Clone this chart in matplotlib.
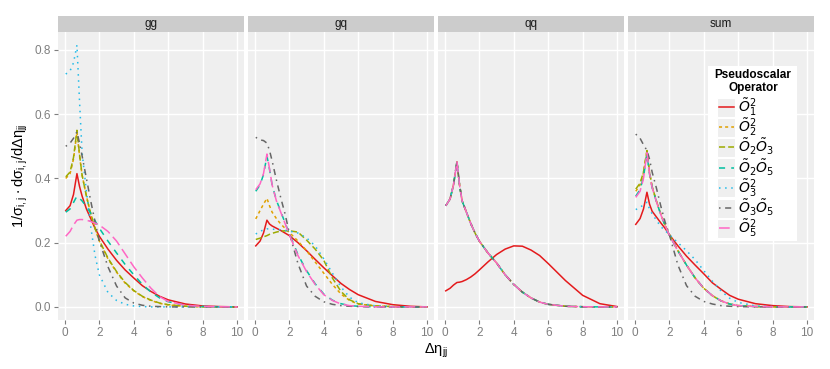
import matplotlib
matplotlib.use('Agg')
import matplotlib.pyplot as plt
from matplotlib.patches import Rectangle

plt.rcParams['font.family'] = ['Liberation Sans', 'DejaVu Sans']
plt.rcParams['mathtext.fontset'] = 'dejavusans'

# Delta eta_jj sample points
deta = [0.05, 0.3, 0.5, 0.7, 0.85, 1.0, 1.25, 1.5, 1.75, 2.0, 2.5, 3.0,
        3.5, 4.0, 4.5, 5.0, 5.5, 6.0, 7.0, 8.0, 9.0, 10.0]

panels = ['gg', 'gq', 'qq', 'sum']
operators = [r'$\tilde{O}_1^2$', r'$\tilde{O}_2^2$', r'$\tilde{O}_2\tilde{O}_3$',
             r'$\tilde{O}_2\tilde{O}_5$', r'$\tilde{O}_3^2$',
             r'$\tilde{O}_3\tilde{O}_5$', r'$\tilde{O}_5^2$']

# gg channel
gg_O1 = [0.300, 0.315, 0.350, 0.415, 0.375, 0.345, 0.305, 0.275, 0.245, 0.220, 0.180, 0.145, 0.115, 0.090, 0.066, 0.048, 0.033, 0.022, 0.009, 0.003, 0.001, 0.0]
gg_O2 = [0.400, 0.415, 0.460, 0.545, 0.470, 0.410, 0.345, 0.290, 0.245, 0.205, 0.150, 0.108, 0.074, 0.050, 0.032, 0.020, 0.011, 0.006, 0.002, 0.0005, 0.0001, 0.0]
gg_O2O3 = [0.405, 0.420, 0.465, 0.550, 0.475, 0.410, 0.345, 0.290, 0.245, 0.207, 0.152, 0.110, 0.076, 0.051, 0.033, 0.021, 0.012, 0.007, 0.002, 0.0005, 0.0001, 0.0]
gg_O2O5 = [0.295, 0.305, 0.325, 0.345, 0.338, 0.330, 0.312, 0.292, 0.268, 0.245, 0.205, 0.168, 0.132, 0.100, 0.070, 0.046, 0.028, 0.016, 0.005, 0.0015, 0.0003, 0.0]
gg_O3 = [0.725, 0.735, 0.760, 0.815, 0.640, 0.480, 0.360, 0.250, 0.160, 0.100, 0.045, 0.020, 0.008, 0.003, 0.001, 0.0, 0.0, 0.0, 0.0, 0.0, 0.0, 0.0]
gg_O3O5 = [0.500, 0.510, 0.525, 0.545, 0.510, 0.470, 0.400, 0.330, 0.265, 0.205, 0.125, 0.065, 0.028, 0.012, 0.005, 0.002, 0.001, 0.0, 0.0, 0.0, 0.0, 0.0]
gg_O5 = [0.220, 0.235, 0.255, 0.270, 0.272, 0.272, 0.270, 0.266, 0.261, 0.255, 0.235, 0.205, 0.165, 0.125, 0.090, 0.058, 0.032, 0.017, 0.005, 0.0015, 0.0003, 0.0]

# gq channel
gq_O1 = [0.190, 0.205, 0.230, 0.270, 0.258, 0.252, 0.245, 0.238, 0.230, 0.222, 0.200, 0.175, 0.148, 0.122, 0.097, 0.073, 0.054, 0.038, 0.017, 0.007, 0.002, 0.0]
gq_O2 = [0.274, 0.300, 0.320, 0.338, 0.315, 0.295, 0.275, 0.258, 0.245, 0.232, 0.205, 0.175, 0.140, 0.105, 0.070, 0.040, 0.020, 0.009, 0.003, 0.001, 0.0, 0.0]
gq_O2O3 = [0.210, 0.214, 0.218, 0.222, 0.226, 0.229, 0.233, 0.236, 0.237, 0.237, 0.233, 0.208, 0.180, 0.145, 0.090, 0.048, 0.022, 0.010, 0.003, 0.001, 0.0, 0.0]
gq_O2O5 = [0.360, 0.380, 0.412, 0.470, 0.428, 0.380, 0.332, 0.297, 0.262, 0.228, 0.163, 0.113, 0.072, 0.040, 0.021, 0.010, 0.004, 0.002, 0.0, 0.0, 0.0, 0.0]
gq_O3 = [0.227, 0.235, 0.240, 0.243, 0.243, 0.242, 0.241, 0.240, 0.238, 0.236, 0.230, 0.215, 0.190, 0.150, 0.105, 0.062, 0.030, 0.013, 0.003, 0.001, 0.0, 0.0]
gq_O3O5 = [0.528, 0.520, 0.518, 0.510, 0.487, 0.455, 0.395, 0.340, 0.290, 0.230, 0.135, 0.065, 0.033, 0.016, 0.008, 0.004, 0.002, 0.001, 0.0, 0.0, 0.0, 0.0]
gq_O5 = [0.365, 0.383, 0.415, 0.476, 0.430, 0.380, 0.330, 0.295, 0.260, 0.225, 0.160, 0.110, 0.070, 0.038, 0.020, 0.009, 0.004, 0.002, 0.0, 0.0, 0.0, 0.0]

# qq channel (all operators except O1^2 coincide)
qq_O1 = [0.050, 0.058, 0.068, 0.076, 0.077, 0.079, 0.085, 0.093, 0.103, 0.115, 0.140, 0.163, 0.180, 0.190, 0.189, 0.177, 0.160, 0.135, 0.082, 0.036, 0.010, 0.001]
qq_other = [0.315, 0.336, 0.380, 0.452, 0.380, 0.330, 0.295, 0.260, 0.230, 0.205, 0.168, 0.137, 0.100, 0.070, 0.046, 0.028, 0.015, 0.008, 0.002, 0.0005, 0.0, 0.0]

# sum of channels
sum_O1 = [0.257, 0.275, 0.305, 0.357, 0.320, 0.298, 0.280, 0.262, 0.245, 0.225, 0.190, 0.158, 0.130, 0.103, 0.075, 0.055, 0.036, 0.024, 0.010, 0.004, 0.001, 0.0]
sum_O2 = [0.360, 0.380, 0.418, 0.485, 0.418, 0.374, 0.329, 0.289, 0.255, 0.225, 0.175, 0.130, 0.090, 0.058, 0.035, 0.019, 0.009, 0.004, 0.001, 0.0, 0.0, 0.0]
sum_O2O3 = [0.367, 0.385, 0.420, 0.487, 0.420, 0.375, 0.330, 0.290, 0.255, 0.225, 0.175, 0.130, 0.090, 0.058, 0.035, 0.019, 0.009, 0.004, 0.001, 0.0, 0.0, 0.0]
sum_O2O5 = [0.345, 0.365, 0.405, 0.475, 0.414, 0.372, 0.328, 0.288, 0.254, 0.224, 0.174, 0.130, 0.090, 0.058, 0.035, 0.019, 0.009, 0.004, 0.001, 0.0, 0.0, 0.0]
sum_O3 = [0.303, 0.310, 0.318, 0.326, 0.305, 0.290, 0.270, 0.250, 0.238, 0.225, 0.200, 0.175, 0.147, 0.113, 0.080, 0.050, 0.027, 0.014, 0.003, 0.001, 0.0, 0.0]
sum_O3O5 = [0.538, 0.525, 0.505, 0.487, 0.460, 0.420, 0.370, 0.315, 0.265, 0.225, 0.130, 0.066, 0.033, 0.017, 0.009, 0.004, 0.002, 0.001, 0.0, 0.0, 0.0, 0.0]
sum_O5 = [0.341, 0.360, 0.400, 0.480, 0.415, 0.372, 0.328, 0.288, 0.254, 0.224, 0.174, 0.130, 0.090, 0.058, 0.035, 0.019, 0.009, 0.004, 0.001, 0.0, 0.0, 0.0]

panel_data = [
    [gg_O1, gg_O2, gg_O2O3, gg_O2O5, gg_O3, gg_O3O5, gg_O5],
    [gq_O1, gq_O2, gq_O2O3, gq_O2O5, gq_O3, gq_O3O5, gq_O5],
    [qq_O1, qq_other, qq_other, qq_other, qq_other, qq_other, qq_other],
    [sum_O1, sum_O2, sum_O2O3, sum_O2O5, sum_O3, sum_O3O5, sum_O5],
]

colors = ['#E41A1C', '#E0A000', '#9DAA00', '#00C0A0', '#22BBE8', '#666666', '#FF66C4']
dashes = [None, (2, 2), (4, 2), (4, 4), (1, 3), (1, 3, 4, 3), (7, 3)]
lw = 1.1

W, H = 830, 369
fig = plt.figure(figsize=(W / 100, H / 100), dpi=100)

panel_bg = '#EFEFEF'
strip_bg = '#CCCCCC'
tick_col = '#7F7F7F'
lefts = [58, 248, 438, 628]
pw = 186
top_px, bot_px = 32, 320

axes = []
for i, name in enumerate(panels):
    ax = fig.add_axes([lefts[i] / W, 1 - bot_px / H, pw / W, (bot_px - top_px) / H])
    ax.set_facecolor(panel_bg)
    for s in ax.spines.values():
        s.set_visible(False)
    ax.set_xlim(-0.4, 10.4)
    ax.set_ylim(-0.0408, 0.856)
    ax.set_xticks([0, 2, 4, 6, 8, 10])
    ax.set_yticks([0.0, 0.2, 0.4, 0.6, 0.8])
    ax.grid(True, color='white', lw=1.0)
    ax.set_axisbelow(True)
    ax.tick_params(colors=tick_col, labelcolor=tick_col, labelsize=8.5,
                   length=3, width=0.8, pad=2)
    if i == 0:
        ax.set_yticklabels(['0.0', '0.2', '0.4', '0.6', '0.8'])
    else:
        ax.tick_params(axis='y', length=0, labelleft=False)
    for k in range(7):
        ln, = ax.plot(deta, panel_data[i][k], color=colors[k], lw=lw)
        if dashes[k] is not None:
            ln.set_dashes(dashes[k])
    # facet strip
    sh = 16 / (bot_px - top_px)
    ax.add_patch(Rectangle((0, 1), 1, sh, transform=ax.transAxes,
                           facecolor=strip_bg, edgecolor='none', clip_on=False))
    ax.text(0.5, 1 + sh / 2, name, transform=ax.transAxes, ha='center',
            va='center', fontsize=8.5, color='#1A1A1A')
    axes.append(ax)

fig.text(20 / W, 1 - 176 / H,
         r'$\mathregular{1/\sigma_{i,j}\cdot d\sigma_{i,j}/d\Delta\eta_{jj}}$',
         rotation=90, ha='center', va='center', fontsize=10.5)
fig.text(436 / W, 1 - 351 / H, r'$\mathregular{\Delta\eta_{jj}}$',
         ha='center', va='center', fontsize=10.5)

# legend drawn in its own box, pixel units
lx0, ly0, lx1, ly1 = 708, 66, 797, 241
lax = fig.add_axes([lx0 / W, 1 - ly1 / H, (lx1 - lx0) / W, (ly1 - ly0) / H])
lax.set_xlim(0, lx1 - lx0)
lax.set_ylim(ly1 - ly0, 0)
lax.set_facecolor('white')
lax.set_xticks([])
lax.set_yticks([])
for s in lax.spines.values():
    s.set_visible(False)
lax.text(45, 9, 'Pseudoscalar', ha='center', va='center', fontsize=8.5,
         fontweight='bold')
lax.text(45, 21.5, 'Operator', ha='center', va='center', fontsize=8.5,
         fontweight='bold')
for k in range(7):
    yc = 41 + k * 20.2
    lax.add_patch(Rectangle((9, yc - 9.5), 18, 19, facecolor=panel_bg,
                            edgecolor='white', lw=0.8))
    ln, = lax.plot([10.5, 25.5], [yc, yc], color=colors[k], lw=lw)
    if dashes[k] is not None:
        ln.set_dashes(dashes[k])
    lax.text(30, yc, operators[k], ha='left', va='center', fontsize=10)

fig.savefig('out.png', dpi=100)
